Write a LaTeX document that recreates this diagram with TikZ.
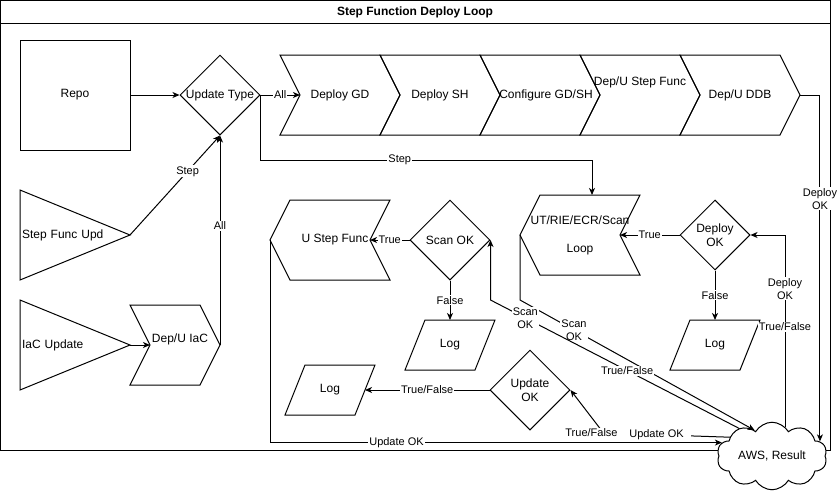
\documentclass[tikz,border=0pt]{standalone}
\usepackage{fontspec}
\setmainfont{Liberation Sans}
\usetikzlibrary{arrows.meta,shapes.geometric,shapes.symbols}

\begin{document}
\begin{tikzpicture}[x=1pt, y=-1pt, line width=1pt,
    font=\fontsize{12}{14}\selectfont,
    stepbox/.style={minimum width=120pt, minimum height=80pt, outer sep=0pt, align=center},
    dec/.style={diamond, draw, minimum width=80pt, minimum height=80pt, inner sep=0pt, align=center},
    logbox/.style={minimum width=90pt, minimum height=50pt, outer sep=0pt},
    tribox/.style={minimum width=110pt, minimum height=90pt, text width=106pt, inner xsep=2pt, outer sep=0pt, align=left},
    lbl/.style={fill=white, inner sep=1pt, font=\fontsize{11}{13}\selectfont, align=center},
    arr/.style={-{Stealth[length=7pt, width=6pt, inset=2pt]}}]
    \useasboundingbox (0,0) rectangle (838,491);

    % frame
    \draw (0.5,0.5) rectangle (830,450);
    \draw (0.5,23) -- (830,23);
    \node[font=\fontsize{12}{14}\selectfont\bfseries] (title) at (415,12) {Step Function Deploy Loop};

    % top row
    \node[draw, minimum width=110pt, minimum height=110pt] (repo) at (75,95) {Repo};
    \node[dec] (ut) at (220,95) {Update Type};
    \node[stepbox] (gd) at (340,95) {Deploy GD};
    \node[stepbox] (sh) at (440,95) {Deploy SH};
    \node[stepbox] (cfg) at (540,95) {\hspace*{12pt}Configure GD/SH};
    \node[stepbox] (dsf) at (640,95) {Dep/U Step Func\\~\\~};
    \node[stepbox] (ddb) at (740,95) {Dep/U DDB};

    % left side
    \node[tribox] (sfu) at (75,235) {Step Func Upd};
    \node[tribox] (iac) at (75,345) {IaC Update};
    \node[stepbox, minimum width=90pt] (depiac) at (175,345) {\hspace*{10pt}Dep/U IaC\\~};

    % step loop
    \node[stepbox] (ustep) at (330,240) {\hspace*{10pt}U Step Func};
    \node[dec] (sok) at (450,240) {Scan OK};
    \node[stepbox] (loop) at (580,235) {UT/RIE/ECR/Scan\\~\\Loop};
    \node[dec, minimum width=70pt, minimum height=70pt] (dok) at (715,235) {Deploy\\OK};
    \node[logbox] (log1) at (450,345) {Log};
    \node[logbox] (log2) at (330,390) {Log};
    \node[logbox] (log3) at (715,345) {Log};
    \node[dec] (uok) at (530,390) {Update\\OK};
    \node[cloud, draw, fill=white, cloud puffs=10, cloud puff arc=120, aspect=1.8,
          minimum width=110pt, minimum height=62pt, inner sep=0pt] (aws) at (772,456) {AWS, Result};

    % outlines
    \foreach \n in {gd,sh,cfg,dsf,ddb,depiac}
        \draw (\n.north west) -- ([xshift=-20pt]\n.north east) -- (\n.east)
            -- ([xshift=-20pt]\n.south east) -- (\n.south west) -- ([xshift=20pt]\n.west) -- cycle;
    \foreach \n in {ustep,loop}
        \draw ([xshift=20pt]\n.north west) -- (\n.north east) -- ([xshift=-20pt]\n.east)
            -- (\n.south east) -- ([xshift=20pt]\n.south west) -- (\n.west) -- cycle;
    \foreach \n in {log1,log2,log3}
        \draw ([xshift=20pt]\n.north west) -- (\n.north east)
            -- ([xshift=-20pt]\n.south east) -- (\n.south west) -- cycle;
    \foreach \n in {sfu,iac}
        \draw (\n.north west) -- (\n.east) -- (\n.south west) -- cycle;

    % connectors
    \draw[arr] (repo) -- (ut);
    \draw[arr] (ut.east) -- node[lbl] {All} ([xshift=20pt]gd.west);
    \draw[arr] (ut.east) -- ++(0,65) -| node[lbl, pos=.21] {Step} ([xshift=12pt]loop.north);
    \draw[arr] (sfu.east) -- node[lbl, pos=.64] {Step} (ut.south);
    \draw[arr] (iac.east) -- ([xshift=20pt]depiac.west);
    \draw[arr] (depiac.east) -- node[lbl, pos=.57] {All} (ut.south);
    \draw[arr] (ddb.east) -| node[lbl, pos=.65] {Deploy\\OK} (aws.17);
    \draw[arr] (aws.66) |- node[lbl, pos=.36] {Deploy\\OK} node[lbl, pos=.26] {True/False} (dok.east);
    \draw[arr] (dok.west) -- node[lbl] {True} ([xshift=-20pt]loop.east);
    \draw[arr] (dok.south) -- node[lbl] {False} (log3.north);
    \draw[arr] (loop.west) -- ++(0,65) -- node[lbl, pos=.23] {Scan\\OK} (aws.124);
    \draw[arr] (aws.140) -- node[lbl, pos=.45] {True/False} node[lbl, pos=.86] {Scan\\OK}
        ([yshift=-60pt]sok.east) -- (sok.east);
    \draw[arr] (sok.west) -- node[lbl] {True} ([xshift=-20pt]ustep.east);
    \draw[arr] (sok.south) -- node[lbl] {False} (log1.north);
    \draw[arr] (ustep.west) |- node[lbl, pos=.64] {Update OK} (aws.165);
    \draw[arr] (aws.156) -- node[lbl, inner xsep=7pt, pos=.58] {Update OK} ([xshift=33pt, yshift=-43pt]uok.east)
        node[lbl, inner xsep=7pt, xshift=-12pt] {True/False} -- (uok.east);
    \draw[arr] (uok.west) -- node[lbl] {True/False} ([xshift=-10pt]log2.east);
\end{tikzpicture}
\end{document}
